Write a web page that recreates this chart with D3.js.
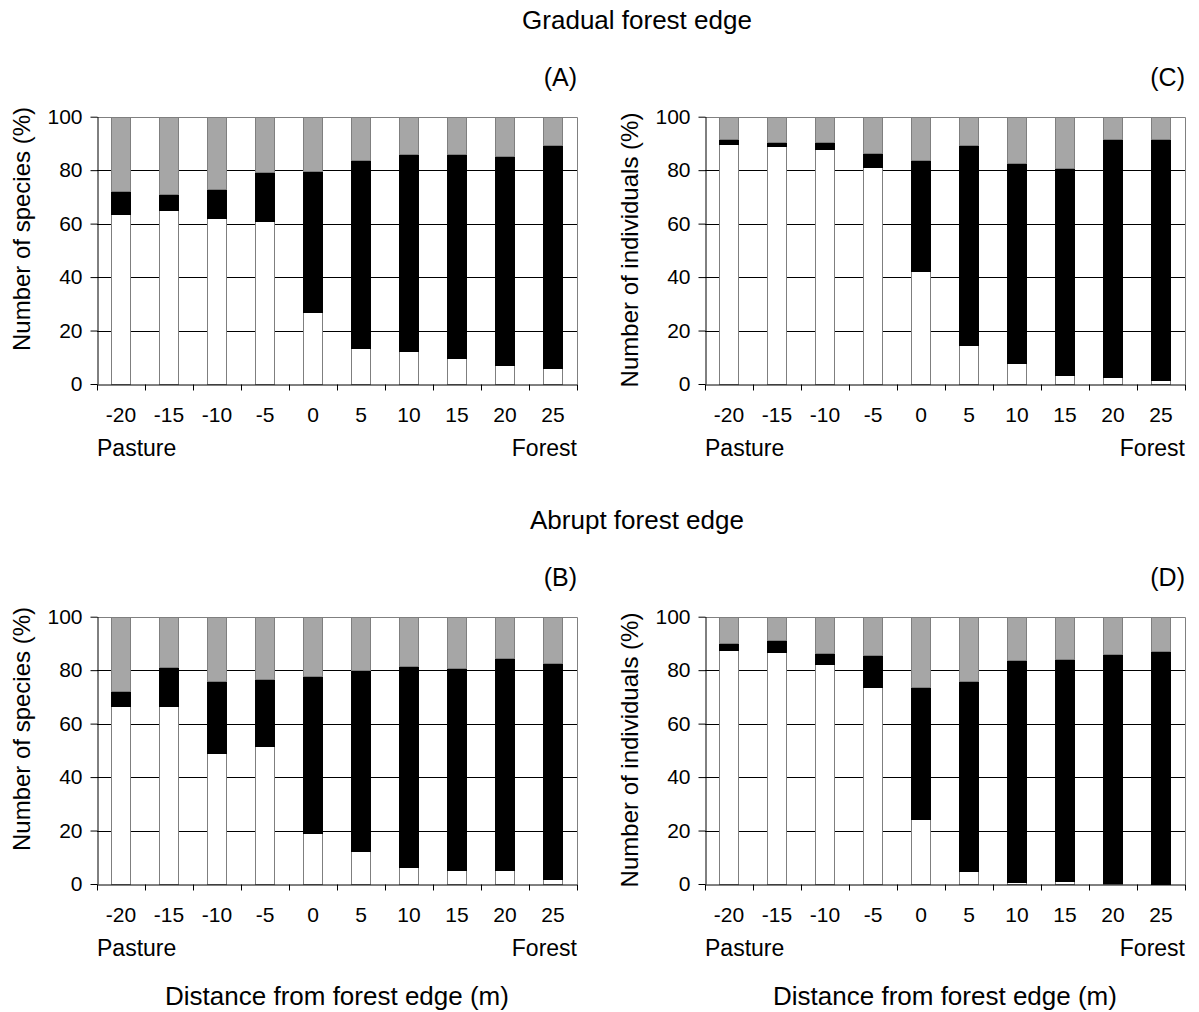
<!DOCTYPE html>
<html>
<head>
<meta charset="utf-8">
<script src="https://cdn.jsdelivr.net/npm/d3@7"></script>
<style>
body { margin: 0; background: #fff; }
text { font-family: Arial, "Liberation Sans", sans-serif; fill: #000; }
</style>
</head>
<body>
<svg id="chart"></svg>
<script>
let distances = [-20, -15, -10, -5, 0, 5, 10, 15, 20, 25]
let yTicks = [0, 20, 40, 60, 80, 100]

// (A) gradual edge - species
let aWhite = [63.7, 65.1, 62.2, 60.8, 27.1, 13.6, 12.5, 9.6, 7.2, 6.0]
let aBlack = [8.5, 6.0, 10.6, 18.5, 52.7, 70.2, 73.7, 76.6, 78.0, 83.3]
let aGrey  = [27.8, 28.9, 27.2, 20.7, 20.2, 16.2, 13.8, 13.8, 14.8, 10.7]

// (C) gradual edge - individuals
let cWhite = [89.8, 89.2, 87.8, 81.2, 42.1, 14.6, 7.7, 3.4, 2.5, 1.4]
let cBlack = [1.7, 1.4, 2.6, 5.2, 41.6, 74.9, 74.8, 77.5, 89.3, 90.4]
let cGrey  = [8.5, 9.4, 9.6, 13.6, 16.3, 10.5, 17.5, 19.1, 8.2, 8.2]

// (B) abrupt edge - species
let bWhite = [66.5, 66.5, 49.1, 51.6, 19.2, 12.5, 6.2, 5.4, 5.4, 2.0]
let bBlack = [5.7, 14.5, 27.0, 25.0, 58.6, 67.5, 75.5, 75.3, 79.1, 80.5]
let bGrey  = [27.8, 19.0, 23.9, 23.4, 22.2, 20.0, 18.3, 19.3, 15.5, 17.5]

// (D) abrupt edge - individuals
let dWhite = [87.4, 86.9, 82.4, 73.7, 24.2, 4.9, 0.6, 1.0, 0.3, 0.0]
let dBlack = [2.7, 4.4, 4.1, 12.1, 49.6, 71.0, 83.1, 83.3, 85.7, 87.2]
let dGrey  = [9.9, 8.7, 13.5, 14.2, 26.2, 24.1, 16.3, 15.7, 14.0, 12.8]

let width = 1199
let height = 1012
let plotW = 480
let plotH = 267.3

let svg = d3.select('#chart')
    .attr('width', width)
    .attr('height', height)

let colors = { white: '#ffffff', black: '#000000', grey: '#a6a6a6' }

let drawPanel = (left, top, white, black, grey, tag, yTitle, yTitleMid) => {
    let g = svg.append('g')

    let xScale = d3.scaleBand()
        .domain(distances)
        .range([left, left + plotW])
        .paddingInner(0.6)
        .paddingOuter(0.3)

    let edgeScale = d3.scaleLinear()
        .domain([0, distances.length])
        .range([left, left + plotW])

    let yScale = d3.scaleLinear()
        .domain([0, 100])
        .range([top + plotH, top])

    // gridlines
    g.selectAll('.grid')
        .data(yTicks.filter(t => t > 0 && t < 100))
        .enter()
        .append('line')
        .attr('x1', left)
        .attr('x2', left + plotW)
        .attr('y1', d => Math.round(yScale(d)) + 0.5)
        .attr('y2', d => Math.round(yScale(d)) + 0.5)
        .attr('stroke', '#000')

    // frame top + right
    g.append('path')
        .attr('d', 'M' + left + ',' + (Math.round(yScale(100)) + 0.5) + 'H' + (Math.round(left + plotW) + 0.5) + 'V' + (top + plotH))
        .attr('fill', 'none')
        .attr('stroke', '#808080')

    let rows = distances.map((d, i) => ({ dist: d, white: white[i], black: black[i], grey: grey[i] }))
    let series = d3.stack().keys(['white', 'black', 'grey'])(rows)

    g.selectAll('.layer')
        .data(series)
        .enter()
        .append('g')
        .attr('fill', s => colors[s.key])
        .attr('stroke', s => s.key == 'black' ? '#000' : '#7f7f7f')
        .selectAll('rect')
        .data(s => s)
        .enter()
        .append('rect')
        .attr('x', d => Math.round(xScale(d.data.dist)) + 0.5)
        .attr('width', Math.round(xScale.bandwidth()))
        .attr('y', d => Math.round(yScale(d[1])) + 0.5)
        .attr('height', d => Math.max(0, Math.round(yScale(d[0])) - Math.round(yScale(d[1]))))

    // y axis
    let yAxis = d3.axisLeft(yScale)
        .tickValues(yTicks)
        .tickSize(7)
        .tickSizeOuter(0)
        .tickPadding(8)
    g.append('g')
        .attr('transform', 'translate(' + (Math.round(left) + 0.5) + ',0)')
        .call(yAxis)
        .call(a => a.selectAll('text').style('font-size', '21px'))
        .call(a => a.attr('font-family', null))

    // x axis: boundary ticks
    let edgeAxis = d3.axisBottom(edgeScale)
        .ticks(distances.length)
        .tickSize(6)
        .tickSizeOuter(0)
        .tickFormat('')
    g.append('g')
        .attr('transform', 'translate(0,' + (Math.round(top + plotH) + 0.5) + ')')
        .call(edgeAxis)

    // x axis: category labels
    let xAxis = d3.axisBottom(xScale)
        .tickSize(0)
        .tickPadding(23)
    g.append('g')
        .attr('transform', 'translate(0,' + (top + plotH) + ')')
        .call(xAxis)
        .call(a => a.select('.domain').remove())
        .call(a => a.selectAll('text').style('font-size', '21px'))
        .call(a => a.attr('font-family', null))

    g.append('text')
        .attr('x', left)
        .attr('y', top + plotH + 72)
        .style('font-size', '23px')
        .text('Pasture')

    g.append('text')
        .attr('x', left + plotW)
        .attr('y', top + plotH + 72)
        .attr('text-anchor', 'end')
        .style('font-size', '23px')
        .text('Forest')

    g.append('text')
        .attr('x', left + plotW)
        .attr('y', top - 31)
        .attr('text-anchor', 'end')
        .style('font-size', '25px')
        .text(tag)

    g.append('text')
        .attr('transform', 'translate(' + (left - 67) + ',' + yTitleMid + ') rotate(-90)')
        .attr('text-anchor', 'middle')
        .style('font-size', '24px')
        .text(yTitle)
}

drawPanel(97, 116.7, aWhite, aBlack, aGrey, '(A)', 'Number of species (%)', 229)
drawPanel(705, 116.7, cWhite, cBlack, cGrey, '(C)', 'Number of individuals (%)', 250)
drawPanel(97, 616.7, bWhite, bBlack, bGrey, '(B)', 'Number of species (%)', 729)
drawPanel(705, 616.7, dWhite, dBlack, dGrey, '(D)', 'Number of individuals (%)', 750)

svg.append('text')
    .attr('x', 637)
    .attr('y', 29)
    .attr('text-anchor', 'middle')
    .style('font-size', '26px')
    .text('Gradual forest edge')

svg.append('text')
    .attr('x', 637)
    .attr('y', 529)
    .attr('text-anchor', 'middle')
    .style('font-size', '26px')
    .text('Abrupt forest edge')

svg.append('text')
    .attr('x', 97 + plotW / 2)
    .attr('y', 1005)
    .attr('text-anchor', 'middle')
    .style('font-size', '26px')
    .text('Distance from forest edge (m)')

svg.append('text')
    .attr('x', 705 + plotW / 2)
    .attr('y', 1005)
    .attr('text-anchor', 'middle')
    .style('font-size', '26px')
    .text('Distance from forest edge (m)')
</script>
</body>
</html>
